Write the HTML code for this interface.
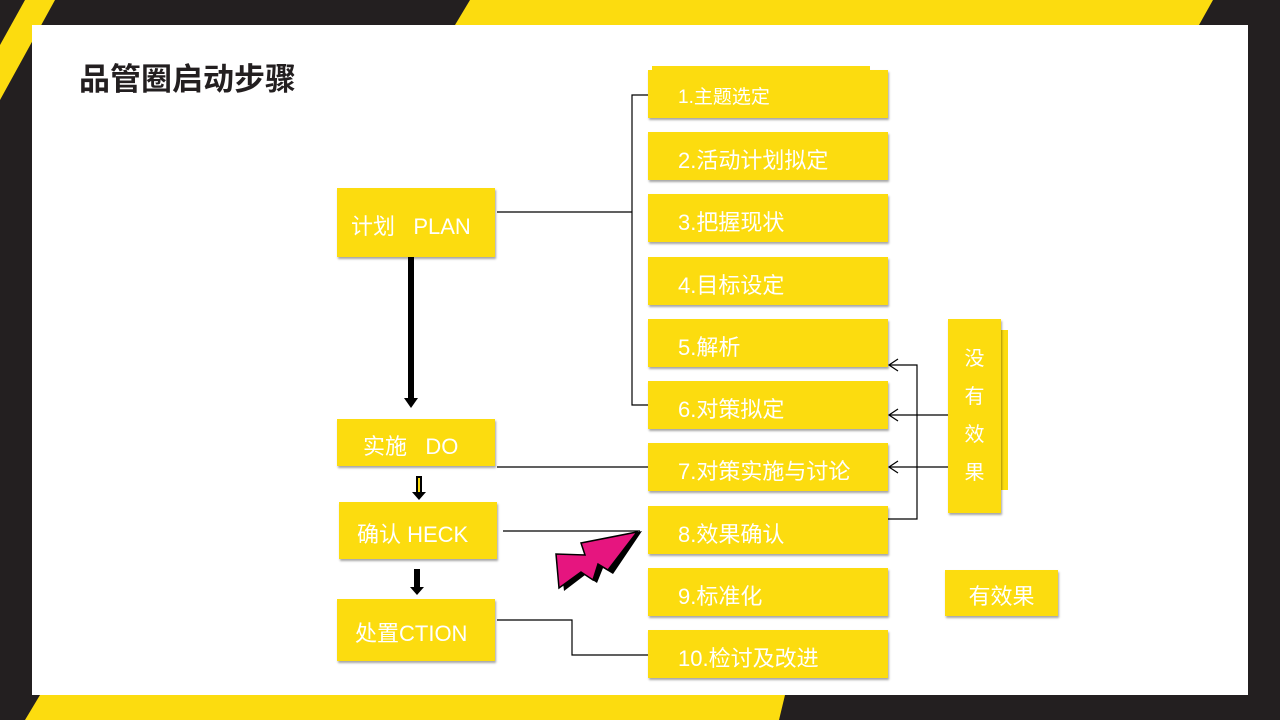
<!DOCTYPE html>
<html><head><meta charset="utf-8"><style>
body{margin:0;width:1280px;height:720px;overflow:hidden;background:#231f20;position:relative;font-family:"Liberation Sans","Noto Sans CJK SC",sans-serif}
.b{position:absolute;background:#fcdc0f;color:#fff;box-shadow:1px 2px 2px rgba(0,0,0,0.35);font-size:22px;display:flex;align-items:center;white-space:nowrap}
.r{left:648px;width:240px;height:48px;padding-left:30px;padding-top:6px;box-sizing:border-box}
.l{width:158px;padding-left:14px;padding-top:4px;box-sizing:border-box}
</style></head><body>
<svg width="1280" height="720" style="position:absolute;left:0;top:0">
<polygon points="470,0 1213,0 1199,25 455,25" fill="#fcdc0f"/>
<polygon points="25,0 55,0 0,100 0,45" fill="#fcdc0f"/>
<rect x="32" y="25" width="1216" height="670" fill="#fff"/>
<polygon points="40,695 785,695 779,720 25,720" fill="#fcdc0f"/>
</svg>
<div style="position:absolute;left:79px;top:54px;font-size:31px;font-weight:bold;color:#231f20">品管圈启动步骤</div>
<div class="b" style="left:652px;top:66px;width:218px;height:10px;box-shadow:none"></div>
<div class="b r" style="top:70px;font-size:19px;padding-top:2px">1.主题选定</div>
<div class="b r" style="top:132px">2.活动计划拟定</div>
<div class="b r" style="top:194px">3.把握现状</div>
<div class="b r" style="top:257px">4.目标设定</div>
<div class="b r" style="top:319px">5.解析</div>
<div class="b r" style="top:381px">6.对策拟定</div>
<div class="b r" style="top:443px">7.对策实施与讨论</div>
<div class="b r" style="top:506px">8.效果确认</div>
<div class="b r" style="top:568px">9.标准化</div>
<div class="b r" style="top:630px">10.检讨及改进</div>
<div class="b l" style="left:337px;top:188px;height:69px">计划&nbsp;&nbsp;&nbsp;PLAN</div>
<div class="b l" style="left:337px;top:419px;height:47px;padding-left:26px">实施&nbsp;&nbsp;&nbsp;DO</div>
<div class="b l" style="left:339px;top:502px;height:57px;padding-left:18px">确认 HECK</div>
<div class="b l" style="left:337px;top:599px;height:62px;padding-left:18px">处置CTION</div>
<div class="b" style="left:1001px;top:330px;width:7px;height:160px;box-shadow:none"></div>
<div class="b" style="left:948px;top:319px;width:53px;height:194px;flex-direction:column;justify-content:center;font-size:20px;line-height:38px">没<br>有<br>效<br>果</div>
<div class="b" style="left:945px;top:570px;width:113px;height:46px;justify-content:center;padding-top:4px;box-sizing:border-box">有效果</div>
<svg width="1280" height="720" style="position:absolute;left:0;top:0">
<g stroke="#000" stroke-width="1.2" fill="none">
<path d="M497 212H632M648 95H632V405H648"/>
<path d="M497 467H648"/>
<path d="M503 531H640"/>
<path d="M497 620H572V655H648"/>
<path d="M888 519H917V365H890M948 415H890M948 467H890"/>
<path d="M898 359L889 365L898 371M898 409L889 415L898 421M898 461L889 467L898 473"/>
</g>
<rect x="408" y="257" width="6" height="143" fill="#000"/>
<polygon points="404,398 418,398 411,408" fill="#000"/>
<rect x="416" y="476" width="6" height="16" fill="#000"/><rect x="418" y="478" width="2" height="14" fill="#fcdc0f"/>
<polygon points="412,492 426,492 419,500" fill="#000"/>
<rect x="414" y="569" width="6" height="18" fill="#000"/>
<polygon points="410,587 424,587 417,595" fill="#000"/>
<polygon points="564,591 560,556 589,557 584,545 642,531 613,574 603,568 597,583 585,575" fill="#000"/>
<polygon points="559,588 556,554 585,555 581,543 637,532 608,570 598,564 593,580 581,572" fill="#e6157f" stroke="#000" stroke-width="1.5"/>
</svg>
</body></html>
